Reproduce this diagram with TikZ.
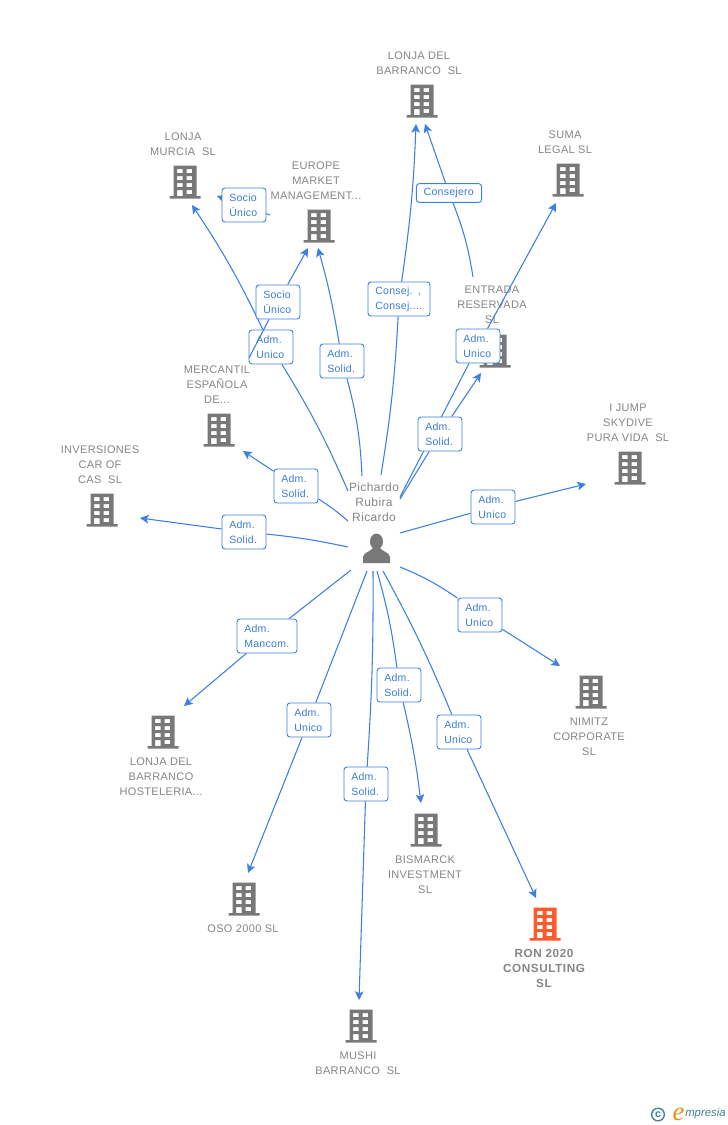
\documentclass[tikz,border=0pt]{standalone}
\usepackage{fontspec}
\setmainfont{Liberation Sans}
\newfontfamily\cofont[LetterSpace=3]{Liberation Sans}
\newfontfamily\ronfont[LetterSpace=5]{Liberation Sans}
\newfontfamily\labfont[LetterSpace=2.5]{Liberation Sans}
\newfontfamily\logofont{Liberation Serif}
\usetikzlibrary{arrows.meta}
\definecolor{bluelink}{HTML}{3B80E2}
\definecolor{boxtext}{HTML}{3A7BD8}
\definecolor{bldggray}{HTML}{787878}
\definecolor{txtgray}{HTML}{858585}
\definecolor{ronred}{HTML}{FF5A2B}
\definecolor{logoteal}{HTML}{3F7F95}
\definecolor{logoorange}{HTML}{F08A1D}
\tikzset{
	pics/bldg/.style={code={
		\fill[even odd rule] (-11.5,-15.5)--(11.5,-15.5)--(11.5,15)--(15.5,15)--(15.5,17.5)--(-15.5,17.5)--(-15.5,15)--(-11.5,15)--cycle
			(-8,-12) rectangle (-2.5,-8) (1.5,-12) rectangle (7,-8)
			(-8,-5) rectangle (-2.5,-1) (1.5,-5) rectangle (7,-1)
			(-8,2) rectangle (-2.5,6) (1.5,2) rectangle (7,6)
			(-8,9) rectangle (-2.5,15) (1.5,9) rectangle (7,13);
	}},
	co/.style={font=\cofont\fontsize{8.25}{11.25}\selectfont, text=txtgray, align=center, inner sep=0pt},
	lab/.style={draw=bluelink, fill=white, rounded corners=2.2pt, line width=.7pt, text=boxtext, font=\labfont\fontsize{7.9}{11.25}\selectfont, align=left, text width=#1, inner xsep=5.5pt, inner ysep=0pt, minimum height=25.5pt},
	lab/.default=22pt,
	link/.style={draw=bluelink, line width=.8pt},
	arr/.style={link, -{Stealth[length=6.5pt,width=6.5pt,inset=1.5pt]}}
}
\begin{document}
\begin{tikzpicture}[x=.75pt, y=-.75pt, line join=round]
	\useasboundingbox (0,0) rectangle (728,1125);
	% buildings
	\pic[fill=bldggray] at (422,100) {bldg};
	\pic[fill=bldggray] at (185,181) {bldg};
	\pic[fill=bldggray] at (319,225) {bldg};
	\pic[fill=bldggray] at (568,179) {bldg};
	\pic[fill=bldggray] at (495,350) {bldg};
	\pic[fill=bldggray] at (219,429) {bldg};
	\pic[fill=bldggray] at (102,509) {bldg};
	\pic[fill=bldggray] at (630,467) {bldg};
	\pic[fill=bldggray] at (591,691) {bldg};
	\pic[fill=bldggray] at (163,731) {bldg};
	\pic[fill=bldggray] at (244,898) {bldg};
	\pic[fill=bldggray] at (426,829) {bldg};
	\pic[fill=bldggray] at (361,1025) {bldg};
	\pic[fill=ronred] at (545,923) {bldg};
	% company names
	\node[co] (lonjaBarranco) at (419,63) {LONJA DEL\\BARRANCO\ \ SL};
	\node[co] (lonjaMurcia) at (183,144) {LONJA\\MURCIA\ \ SL};
	\node[co] (europe) at (316,181) {EUROPE\\MARKET\\MANAGEMENT...};
	\node[co] (suma) at (565,142) {SUMA\\LEGAL SL};
	\node[co] (entrada) at (492,305) {ENTRADA\\RESERVADA\\SL};
	\node[co] (mercantil) at (217,385) {MERCANTIL\\ESPAÑOLA\\DE...};
	\node[co] (inversiones) at (100,465) {INVERSIONES\\CAR OF\\CAS\ \ SL};
	\node[co] (ijump) at (628,423) {I JUMP\\SKYDIVE\\PURA VIDA\ \ SL};
	\node[co] (nimitz) at (589,737) {NIMITZ\\CORPORATE\\SL};
	\node[co] (hosteleria) at (161,777) {LONJA DEL\\BARRANCO\\HOSTELERIA...};
	\node[co] (oso) at (243,929) {OSO 2000 SL};
	\node[co] (bismarck) at (425,875) {BISMARCK\\INVESTMENT\\SL};
	\node[co] (mushi) at (358,1063) {MUSHI\\BARRANCO\ \ SL};
	\node[co, font=\ronfont\bfseries\fontsize{8.8}{11.25}\selectfont] (ron) at (544,968) {RON 2020\\CONSULTING\\SL};
	\node[co, font=\cofont\fontsize{9}{11.25}\selectfont] (pichardo) at (374,502) {Pichardo\\Rubira\\Ricardo};
	% person
	\fill[bldggray] (376.5,541.5) ellipse (6.5 and 8);
	\fill[bldggray] (363,563)--(363,557) .. controls (364,552) and (370,552) .. (373,548)--(380,548) .. controls (383,552) and (389,552) .. (390,557)--(390,563)--cycle;
	% ends of the connectors
	\coordinate (s1) at (348,491);
	\coordinate (t1) at (192,205);
	\coordinate (s2) at (270,215);
	\coordinate (t2) at (217,196);
	\coordinate (s3) at (249,358);
	\coordinate (t3) at (308,248);
	\coordinate (s4) at (362,476);
	\coordinate (t4) at (318,248);
	\coordinate (s5) at (381,475);
	\coordinate (t5) at (416,124);
	\coordinate (s6) at (473,277);
	\coordinate (t6) at (425,124);
	\coordinate (s7) at (400,497);
	\coordinate (t7) at (556,203);
	\coordinate (s8) at (400,499);
	\coordinate (t8) at (481,373);
	\coordinate (s9) at (348,521);
	\coordinate (t9) at (243,451);
	\coordinate (s10) at (348,547);
	\coordinate (t10) at (140,518);
	\coordinate (s11) at (400,533);
	\coordinate (t11) at (586,484);
	\coordinate (s12) at (400,567);
	\coordinate (t12) at (560,666);
	\coordinate (s13) at (351,570);
	\coordinate (t13) at (184,706);
	\coordinate (s14) at (367,571);
	\coordinate (t14) at (248,873);
	\coordinate (s15) at (373,571);
	\coordinate (t15) at (359,1000);
	\coordinate (s16) at (377,571);
	\coordinate (t16) at (421,803);
	\coordinate (s17) at (383,571);
	\coordinate (t17) at (536,898);
	% boxes and connectors
	\node[lab] (admUnicoLonja) at (271,347) {Adm.\\Unico};
	\draw[link] (s1) to[bend right=4] (admUnicoLonja);
	\draw[arr] (admUnicoLonja) to[bend right=4] (t1);
	\draw[arr] (s2) -- (t2);
	\node[lab] (socioLonja) at (244,205) {Socio\\Único};
	\node[lab] (socioEurope) at (278,302) {Socio\\Único};
	\draw[link] (s3) -- (socioEurope);
	\draw[arr] (socioEurope) -- (t3);
	\node[lab] (admSolidEurope) at (342,361) {Adm.\\Solid.};
	\draw[link] (s4) to[bend right=6] (admSolidEurope);
	\draw[arr] (admSolidEurope) to[bend right=3] (t4);
	\node[lab=35.5pt] (consej) at (399,299) {Consej. ,\\Consej....};
	\draw[link] (s5) to[bend right=3] (consej);
	\draw[arr] (consej) to[bend right=3] (t5);
	\node[lab=38pt, minimum height=14pt] (consejero) at (449,193) {Consejero};
	\draw[link] (s6) to[bend right=6] (consejero);
	\draw[arr] (consejero) -- (t6);
	\node[lab] (admUnicoSuma) at (478,346) {Adm.\\Unico};
	\draw[link] (s7) -- (admUnicoSuma);
	\draw[arr] (admUnicoSuma) -- (t7);
	\node[lab] (admSolidEntrada) at (440,434) {Adm.\\Solid.};
	\draw[link] (s8) -- (admSolidEntrada);
	\draw[arr] (admSolidEntrada) -- (t8);
	\node[lab] (admSolidMercantil) at (296,486) {Adm.\\Solid.};
	\draw[link] (s9) to[bend right=4] (admSolidMercantil);
	\draw[arr] (admSolidMercantil) -- (t9);
	\node[lab] (admSolidCar) at (244,532) {Adm.\\Solid.};
	\draw[link] (s10) to[bend right=3] (admSolidCar);
	\draw[arr] (admSolidCar) -- (t10);
	\node[lab] (admUnicoJump) at (493,507) {Adm.\\Unico};
	\draw[link] (s11) -- (admUnicoJump);
	\draw[arr] (admUnicoJump) -- (t11);
	\node[lab] (admUnicoNimitz) at (480,615) {Adm.\\Unico};
	\draw[link] (s12) to[bend left=6] (admUnicoNimitz);
	\draw[arr] (admUnicoNimitz) -- (t12);
	\node[lab=34pt] (admMancom) at (267,636) {Adm.\\Mancom.};
	\draw[link] (s13) -- (admMancom);
	\draw[arr] (admMancom) -- (t13);
	\node[lab] (admUnicoOso) at (309,720) {Adm.\\Unico};
	\draw[link] (s14) -- (admUnicoOso);
	\draw[arr] (admUnicoOso) -- (t14);
	\node[lab] (admSolidMushi) at (366,784) {Adm.\\Solid.};
	\draw[link] (s15) to[bend left=2] (admSolidMushi);
	\draw[arr] (admSolidMushi) -- (t15);
	\node[lab] (admSolidBismarck) at (399,685) {Adm.\\Solid.};
	\draw[link] (s16) to[bend left=4] (admSolidBismarck);
	\draw[arr] (admSolidBismarck) to[bend left=3] (t16);
	\node[lab] (admUnicoRon) at (459,732) {Adm.\\Unico};
	\draw[link] (s17) to[bend left=3] (admUnicoRon);
	\draw[arr] (admUnicoRon) -- (t17);
	% logo
	\node[circle, draw=logoteal, line width=1pt, text=logoteal, inner sep=0pt, minimum size=9.5pt, font=\bfseries\fontsize{8}{8}\selectfont] (copy) at (658,1114.5) {c};
	\node[text=logoorange, inner sep=0pt, font=\logofont\itshape\fontsize{20}{20}\selectfont] (logoE) at (678.5,1114) {e};
	\node[text=logoteal, anchor=west, inner sep=0pt, font=\itshape\fontsize{8.5}{8.5}\selectfont] (logoRest) at (685,1114) {mpresia};
\end{tikzpicture}
\end{document}
